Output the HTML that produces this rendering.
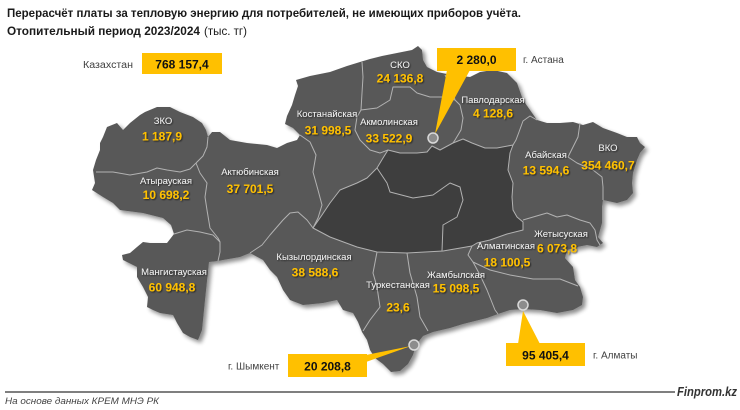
<!DOCTYPE html>
<html><head><meta charset="utf-8"><style>
html,body{margin:0;padding:0;background:#fff;}
svg{display:block;}
text{font-family:"Liberation Sans",sans-serif;}
.nm{fill:#f2f2f2;font-size:9.5px;text-anchor:middle;}
.vl{fill:#FFC000;font-size:12px;font-weight:bold;text-anchor:middle;}
.bx{fill:#111;font-size:12px;font-weight:bold;text-anchor:middle;}
.lb{fill:#404040;font-size:10px;}
.ln{fill:none;stroke:#b2b2b2;stroke-width:1;stroke-linejoin:round;}
</style></head><body>
<svg width="740" height="410" viewBox="0 0 740 410" xmlns="http://www.w3.org/2000/svg">
<defs>
<filter id="sh" x="-10%" y="-10%" width="120%" height="120%">
<feGaussianBlur in="SourceAlpha" stdDeviation="2.2"/>
<feOffset dx="3" dy="3" result="b"/>
<feComponentTransfer><feFuncA type="linear" slope="0.45"/></feComponentTransfer>
<feMerge><feMergeNode/><feMergeNode in="SourceGraphic"/></feMerge>
</filter>
<filter id="ts" x="-20%" y="-40%" width="140%" height="180%">
<feDropShadow dx="1" dy="1" stdDeviation="0.7" flood-color="#000" flood-opacity="0.6"/>
</filter>
</defs>
<rect width="740" height="410" fill="#fff"/>

<!-- Title -->
<text x="7" y="17" font-size="12" font-weight="bold" fill="#1a1a1a" textLength="514" lengthAdjust="spacingAndGlyphs">Перерасчёт платы за тепловую энергию для потребителей, не имеющих приборов учёта.</text>
<text x="7" y="35" font-size="12" fill="#1a1a1a"><tspan font-weight="bold" textLength="193" lengthAdjust="spacingAndGlyphs">Отопительный период 2023/2024</tspan><tspan x="204" textLength="43" lengthAdjust="spacingAndGlyphs">(тыс. тг)</tspan></text>

<!-- Kazakhstan total -->
<text x="83" y="68" class="lb" textLength="50" lengthAdjust="spacingAndGlyphs">Казахстан</text>
<rect x="142" y="53" width="80" height="21" fill="#FFC000"/>
<text x="182" y="68.5" class="bx">768 157,4</text>

<!-- Map -->
<g filter="url(#sh)">
<path fill="#585858" d="M100,143 L103,137 L107,127 L117,123 L123,130 L130,123 L140,115 L145,112 L157,107 L170,107 L180,112 L193,117 L202,123 L206,130 L208,137 L212,132 L220,132 L230,140 L247,143 L267,145 L277,148 L287,143 L297,140 L300,135 L293,128 L285,124 L287,116 L292,105 L295,95 L298,86 L296,80 L310,76 L330,72 L347,66 L360,62 L370,59 L382,56 L397,53 L412,50 L418,46 L422,50 L423,60 L427,67 L437,72 L452,75 L470,77 L480,72 L493,70 L507,73 L517,83 L523,100 L530,110 L537,120 L547,123 L560,123 L573,122 L583,125 L593,122 L603,128 L617,133 L627,137 L637,137 L640,143 L645,147 L640,153 L637,160 L633,173 L632,183 L633,193 L627,200 L617,203 L603,200 L602,207 L602,223 L598,237 L603,243 L597,247 L587,245 L577,247 L567,250 L565,258 L573,267 L575,280 L580,287 L583,297 L582,305 L573,310 L557,313 L540,310 L523,309 L510,310 L498,314 L487,318 L475,321 L463,324 L450,328 L433,332 L423,336 L416,345 L413,355 L408,364 L400,371 L391,372 L383,364 L375,358 L370,350 L367,340 L362,332 L358,322 L353,313 L343,310 L337,300 L323,303 L303,305 L290,300 L283,290 L277,277 L270,270 L263,260 L250,253 L240,257 L223,260 L218,261 L209,262 L205,300 L202,330 L198,340 L190,337 L183,333 L177,323 L173,315 L160,313 L153,310 L147,307 L148,297 L143,287 L137,277 L137,267 L123,260 L122,255 L130,253 L137,247 L143,242 L150,243 L167,243 L174,234 L171,225 L163,218 L143,213 L120,210 L113,203 L103,197 L92,190 L95,183 L93,170 L96,160 L100,150 Z"/>
</g>
<path fill="#3e3e3e" stroke="#b2b2b2" stroke-width="1" stroke-linejoin="round" d="M313,228 L322,215 L330,203 L340,190 L357,183 L367,178 L377,168 L383,158 L388,150 L400,153 L417,153 L427,152 L432,146 L440,150 L453,143 L463,139 L472,143 L485,148 L497,148 L513,145 L510,153 L508,170 L513,183 L512,197 L513,210 L517,217 L523,222 L523,230 L507,234 L490,240 L477,243 L472,246 L443,251 L407,253 L377,252 L357,247 L330,237 Z"/>

<g class="ln">
<polyline points="96,172 113,172 130,175 147,172 157,168 167,170 180,172 190,169 196,163"/>
<polyline points="208,137 207,147 203,156 196,163"/>
<polyline points="196,163 200,173 207,183 205,197 207,210 210,228 218,238 220,242 220,252 218,261"/>
<polyline points="174,234 187,230 200,232 213,235 220,242"/>
<polyline points="300,135 310,142 316,155 313,172 318,190 322,205 318,218 313,228"/>
<polyline points="250,253 262,245 270,235 283,220 290,213 298,212 307,220 313,228"/>
<polyline points="362,62 363,77 362,93 361,110"/>
<polyline points="361,110 357,117 355,130 360,140 370,150 380,153 388,150"/>
<polyline points="361,110 377,108 390,100 393,87 410,87 417,93 430,97 443,97 455,100"/>
<polyline points="455,100 452,88 445,75"/>
<polyline points="455,100 460,105 463,118 461,130 455,140 453,143"/>
<polyline points="537,120 530,116 523,121 519,132 516,140 513,145"/>
<polyline points="580,123 578,137 573,147 568,157 577,163 593,170 602,177 603,187 603,200"/>
<polyline points="523,220 540,215 547,213 557,217 567,215 580,220 590,223 595,230 597,240 600,245"/>
<polyline points="472,246 468,255 473,262 490,270 510,275 533,279 560,279 578,286"/>
<polyline points="473,262 480,275 487,290 491,300 495,310 498,314"/>
<polyline points="407,253 410,273 417,297 420,317 428,331"/>
<polyline points="377,252 373,273 377,287 380,307 370,320 363,331"/>
<polyline points="377,168 387,183 390,192 413,198 433,195 450,183 460,187 463,200 457,217 443,225 442,251"/>
</g>

<!-- Region labels -->
<g filter="url(#ts)">
<text class="nm" x="163" y="124">ЗКО</text>
<text class="vl" x="162" y="140.5">1 187,9</text>
<text class="nm" x="166" y="184">Атырауская</text>
<text class="vl" x="166" y="199">10 698,2</text>
<text class="nm" x="250" y="175">Актюбинская</text>
<text class="vl" x="250" y="193">37 701,5</text>
<text class="nm" x="327" y="117">Костанайская</text>
<text class="vl" x="328" y="134.5">31 998,5</text>
<text class="nm" x="400" y="68">СКО</text>
<text class="vl" x="400" y="82.5">24 136,8</text>
<text class="nm" x="389" y="125">Акмолинская</text>
<text class="vl" x="389" y="142.5">33 522,9</text>
<text class="nm" x="493" y="103">Павлодарская</text>
<text class="vl" x="493" y="117.5">4 128,6</text>
<text class="nm" x="546" y="158">Абайская</text>
<text class="vl" x="546" y="174.5">13 594,6</text>
<text class="nm" x="608" y="151">ВКО</text>
<text class="vl" x="608" y="169.5">354 460,7</text>
<text class="nm" x="561" y="237">Жетысуская</text>
<text class="vl" x="557" y="252.5">6 073,8</text>
<text class="nm" x="506" y="249">Алматинская</text>
<text class="vl" x="507" y="266.5">18 100,5</text>
<text class="nm" x="456" y="278">Жамбылская</text>
<text class="vl" x="456" y="292.5">15 098,5</text>
<text class="nm" x="398" y="288">Туркестанская</text>
<text class="vl" x="398" y="311.5">23,6</text>
<text class="nm" x="314" y="260">Кызылординская</text>
<text class="vl" x="315" y="276.5">38 588,6</text>
<text class="nm" x="174" y="275">Мангистауская</text>
<text class="vl" x="172" y="291.5">60 948,8</text>
</g>

<!-- Astana callout -->
<polygon points="447,70 470,70 435,134" fill="#FFC000"/>
<rect x="437" y="48" width="79" height="23" fill="#FFC000"/>
<text x="476.5" y="64" class="bx">2 280,0</text>
<text x="523" y="63" class="lb">г. Астана</text>
<circle cx="433" cy="138" r="5" fill="#8c8c8c" stroke="#d9d9d9" stroke-width="1.5"/>

<!-- Almaty callout -->
<polygon points="518,344 540,344 523,311" fill="#FFC000"/>
<rect x="506" y="343" width="79" height="23" fill="#FFC000"/>
<text x="545.5" y="359.5" class="bx">95 405,4</text>
<text x="593" y="358.5" class="lb">г. Алматы</text>
<circle cx="523" cy="305" r="5" fill="#8c8c8c" stroke="#d9d9d9" stroke-width="1.5"/>

<!-- Shymkent callout -->
<polygon points="366,355 366,362 411,346" fill="#FFC000"/>
<rect x="288" y="354" width="79" height="23" fill="#FFC000"/>
<text x="327.5" y="370.5" class="bx">20 208,8</text>
<text x="228" y="369.5" class="lb">г. Шымкент</text>
<circle cx="414" cy="345" r="5" fill="#8c8c8c" stroke="#d9d9d9" stroke-width="1.5"/>

<!-- Footer -->
<line x1="5" y1="392" x2="675" y2="392" stroke="#555" stroke-width="1.6"/>
<text x="677" y="396" font-family="'Liberation Sans Narrow','Liberation Sans',sans-serif" font-size="12.5" font-weight="bold" font-style="italic" fill="#333" textLength="60" lengthAdjust="spacingAndGlyphs">Finprom.kz</text>
<text x="5" y="404" font-family="'Liberation Sans Narrow','Liberation Sans',sans-serif" font-size="9" font-style="italic" fill="#444" textLength="154" lengthAdjust="spacingAndGlyphs">На основе данных КРЕМ МНЭ РК</text>
</svg>
</body></html>
